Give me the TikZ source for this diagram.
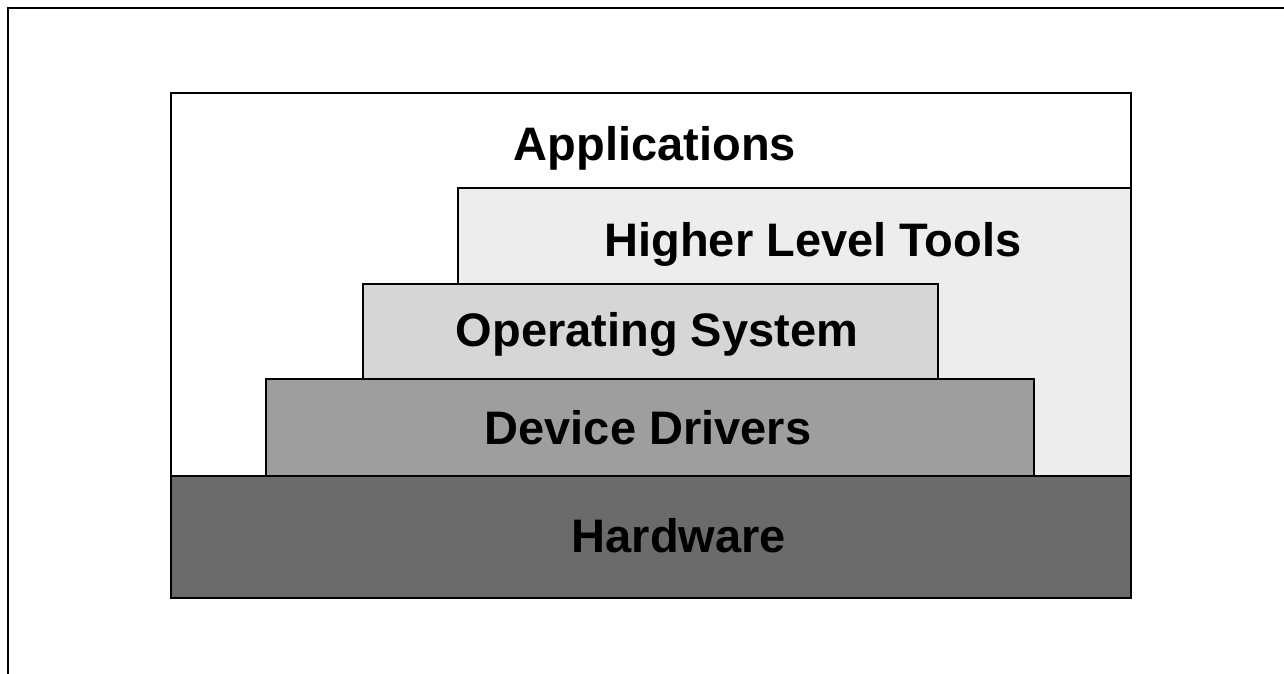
\documentclass[tikz,border=0pt]{standalone}
\usepackage{fontspec}
\setmainfont{Liberation Sans}
\begin{document}
\begin{tikzpicture}[x=1pt,y=-1pt,
  layer/.style={draw=black, line width=2pt, rectangle, inner sep=0pt, anchor=north west},
  lbl/.style={font=\fontsize{47}{50}\selectfont\bfseries, anchor=base, inner sep=0pt}]
\useasboundingbox (0,0) rectangle (1284,674);
\draw[line width=2pt] (8,674) -- (8,8) -- (1284,8);
\node[layer, fill=white, minimum width=960pt, minimum height=383pt] (app) at (170,92) {};
\node[layer, fill=black!7, minimum width=673pt, minimum height=288pt] (hlt) at (457,187) {};
\node[layer, fill=black!16, minimum width=575pt, minimum height=95pt] (os) at (362,283) {};
\node[layer, fill=black!38, minimum width=768pt, minimum height=97pt] (dd) at (265,378) {};
\node[layer, fill=black!58, minimum width=960pt, minimum height=122pt] (hw) at (170,475) {};
\node[lbl] (tapp) at (655,160) {Applications};
\node[lbl] (thlt) at (813,256) {Higher Level Tools};
\node[lbl] (tos) at (657,346) {Operating System};
\node[lbl] (tdd) at (648,444) {Device Drivers};
\node[lbl] (thw) at (679,552) {Hardware};
\end{tikzpicture}
\end{document}
